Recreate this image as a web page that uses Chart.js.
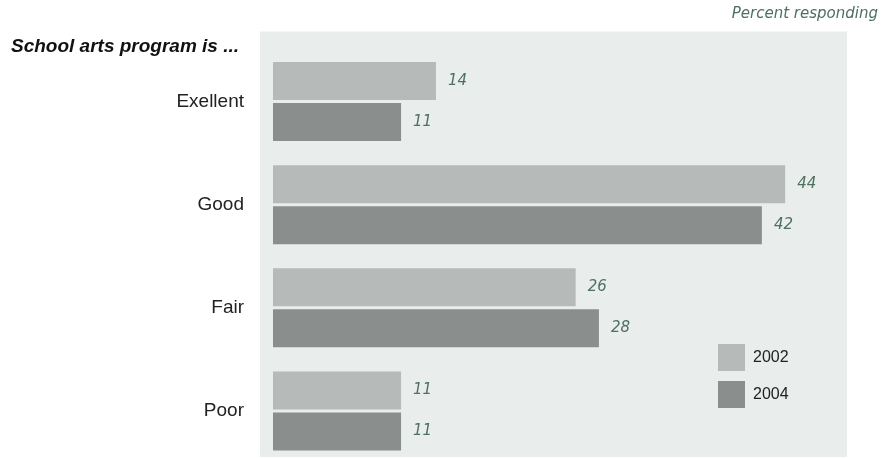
<!DOCTYPE html>
<html>
<head>
<meta charset="utf-8">
<script src="https://cdn.jsdelivr.net/npm/chart.js@4.4.0/dist/chart.umd.min.js"></script>
<style>
  html, body { margin: 0; padding: 0; background: #ffffff; }
  #wrap { width: 885px; height: 458px; position: relative; }
</style>
</head>
<body>
<div id="wrap"><canvas id="artsChart" width="885" height="458"></canvas></div>
<script>
  // chart values
  var categories = ["Exellent", "Good", "Fair", "Poor"];
  var years = ["2002", "2004"];
  var values2002 = [14, 44, 26, 11];
  var values2004 = [11, 42, 28, 11];
  var yearColors = ["#b6bab9", "#8a8f8e"];

  var titleText = "School arts program is ...";
  var noteText = "Percent responding";

  // grey-green panel behind the bars
  var panelPlugin = {
    id: 'panel',
    beforeDraw: function(chart) {
      var a = chart.chartArea, ctx = chart.ctx;
      ctx.save();
      ctx.fillStyle = "#e9edec";
      ctx.fillRect(a.left - 13, a.top - 70, a.right - a.left + 5, a.bottom - a.top + 116);
      ctx.restore();
    }
  };

  // value labels, heading, note and legend
  var textPlugin = {
    id: 'texts',
    afterDatasetsDraw: function(chart) {
      var ctx = chart.ctx;
      ctx.save();
      ctx.font = "italic 15px 'DejaVu Sans'";
      ctx.fillStyle = "#4e7060";
      ctx.textBaseline = "middle";
      ctx.textAlign = "left";
      chart.data.datasets.forEach(function(ds, i) {
        chart.getDatasetMeta(i).data.forEach(function(bar, j) {
          ctx.fillText(ds.data[j], bar.x + 12, bar.y);
        });
      });

      ctx.font = "italic 15px 'DejaVu Sans'";
      ctx.textAlign = "right";
      ctx.fillText(noteText, 878, 14);

      ctx.font = "italic bold 19px 'Liberation Sans'";
      ctx.fillStyle = "#111111";
      ctx.textAlign = "left";
      ctx.fillText(titleText, 11, 47);

      // legend
      ctx.font = "16px 'Liberation Sans'";
      chart.data.datasets.forEach(function(ds, i) {
        var y = 344 + i * 37;
        ctx.fillStyle = ds.backgroundColor;
        ctx.fillRect(718, y, 27, 27);
        ctx.fillStyle = "#222222";
        ctx.fillText(ds.label, 753, y + 14);
      });
      ctx.restore();
    }
  };

  var ctx = document.getElementById("artsChart").getContext("2d");

  var myBarChart = new Chart(ctx, {
    type: 'bar',
    data: {
      labels: categories,
      datasets: [
        { label: years[0], data: values2002, backgroundColor: yearColors[0],
          barPercentage: 0.927, categoryPercentage: 0.794, clip: false },
        { label: years[1], data: values2004, backgroundColor: yearColors[1],
          barPercentage: 0.927, categoryPercentage: 0.794, clip: false }
      ]
    },
    options: {
      indexAxis: 'y',
      responsive: false,
      animation: false,
      layout: { padding: { top: 101.5, bottom: 47, left: 0, right: 30 } },
      plugins: {
        legend: { display: false },
        tooltip: { enabled: false }
      },
      scales: {
        x: {
          min: 0, max: 50,
          display: false
        },
        y: {
          offset: false,
          grid: { display: false, drawTicks: false },
          border: { display: false },
          ticks: {
            padding: 29,
            color: "#222222",
            font: { family: "Liberation Sans", size: 19 }
          },
          afterFit: function(scale) { scale.width = 273; }
        }
      }
    },
    plugins: [panelPlugin, textPlugin]
  });
</script>
</body>
</html>
